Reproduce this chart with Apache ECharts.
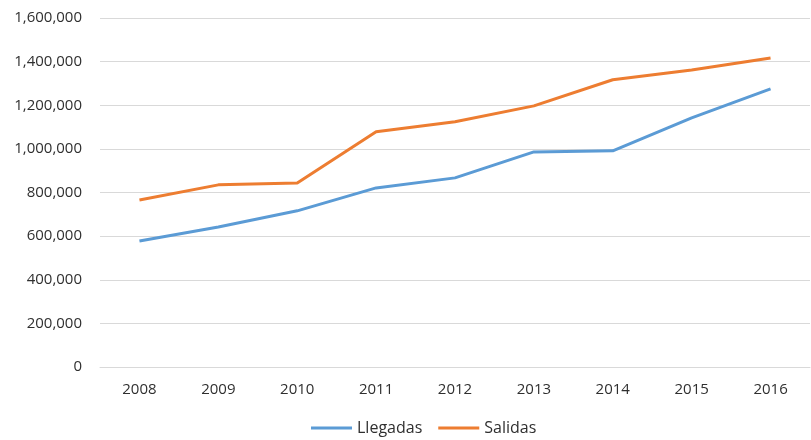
<!DOCTYPE html>
<html><head><meta charset="utf-8">
<script src="https://cdn.jsdelivr.net/npm/echarts@6/dist/echarts.min.js"></script>
<style>html,body{margin:0;padding:0;background:#fff}#c{width:811px;height:440px}</style>
</head><body><div id="c"></div>
<script>
const years = ['2008','2009','2010','2011','2012','2013','2014','2015','2016'];
const llegadas = [578000, 642000, 716000, 821000, 867000, 986000, 991000, 1142000, 1275000];
const salidas = [766000, 835000, 844000, 1078000, 1124000, 1197000, 1317000, 1362000, 1417000];
const font = 'Open Sans';
const txt = '#2f2f2f';
const chart = echarts.init(document.getElementById('c'));
chart.setOption({
  animation: false,
  grid: {left: 100, right: 1, top: 18, bottom: 73, containLabel: false},
  legend: {
    bottom: -1, left: 306, itemWidth: 41, itemHeight: 3, itemGap: 16,
    icon: 'rect',
    textStyle: {fontFamily: font, fontSize: 16, color: txt},
    data: ['Llegadas', 'Salidas']
  },
  xAxis: {
    type: 'category', data: years, boundaryGap: true,
    axisLine: {lineStyle: {color: '#d9d9d9'}},
    axisTick: {show: false},
    axisLabel: {fontFamily: font, fontSize: 15, color: txt, margin: 15}
  },
  yAxis: {
    type: 'value', min: 0, max: 1600000, interval: 200000,
    axisLine: {show: false}, axisTick: {show: false},
    splitLine: {lineStyle: {color: '#d9d9d9'}},
    axisLabel: {fontFamily: font, fontSize: 15, color: txt, margin: 18,
      formatter: v => v.toLocaleString('en-US')}
  },
  series: [
    {name: 'Llegadas', type: 'line', data: llegadas, symbol: 'none',
     lineStyle: {width: 3, color: '#5B9BD5'}, itemStyle: {color: '#5B9BD5'}},
    {name: 'Salidas', type: 'line', data: salidas, symbol: 'none',
     lineStyle: {width: 3, color: '#ED7D31'}, itemStyle: {color: '#ED7D31'}}
  ]
});
</script></body></html>
